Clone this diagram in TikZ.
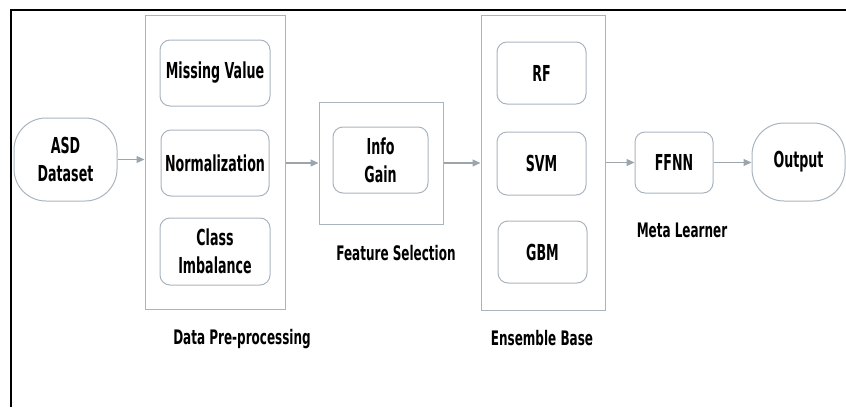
\documentclass[tikz,border=0pt]{standalone}
\usepackage{fontspec}
\usetikzlibrary{arrows.meta}
\newfontfamily\diagfont[FakeStretch=0.575]{DejaVu Sans Bold}
\newfontfamily\lblfont[FakeStretch=0.6]{DejaVu Sans Bold}
\definecolor{boxline}{HTML}{A9B4BE}
\definecolor{arrline}{HTML}{9AA5AE}
\tikzset{
  inbox/.style={draw=boxline, line width=1pt, rounded corners=10pt, align=center,
    font=\diagfont\fontsize{22}{28}\selectfont, inner sep=0pt},
  grpbox/.style={draw=boxline, line width=1pt, inner sep=0pt},
  capsule/.style={draw=boxline, line width=1pt, rounded corners=32pt, align=center,
    font=\diagfont\fontsize{22}{28}\selectfont, inner sep=0pt},
  grplabel/.style={font=\lblfont\fontsize{20}{24}\selectfont, inner sep=0pt},
  arr/.style={draw=arrline, line width=1.2pt, -{Triangle[length=8pt,width=7pt]}, arrline},
}
\begin{document}
\begin{tikzpicture}[x=1pt,y=-1pt]
\useasboundingbox (0,0) rectangle (846,407);
% frame
\draw[line width=2pt, black] (11,407) -- (11,10) -- (846,10);
% groups
\node[grpbox, minimum width=140pt, minimum height=294pt] (g1) at (215,162) {};
\node[grpbox, minimum width=124pt, minimum height=122pt] (g2) at (381,163) {};
\node[grpbox, minimum width=124pt, minimum height=295pt] (g3) at (543,162.5) {};
% inner boxes
\node[capsule, minimum width=103pt, minimum height=83pt] (asd) at (65.5,159.5) {ASD\\Dataset};
\node[inbox, minimum width=110pt, minimum height=66pt] (mv) at (215,73) {Missing Value};
\node[inbox, minimum width=108pt, minimum height=66pt] (nm) at (215,163) {Normalization};
\node[inbox, minimum width=110pt, minimum height=67pt] (ci) at (215,251.5) {Class\\Imbalance};
\node[inbox, minimum width=95pt, minimum height=66pt] (ig) at (380.5,160) {Info\\Gain};
\node[inbox, minimum width=89pt, minimum height=62pt] (rf) at (541.5,73) {RF};
\node[inbox, minimum width=89pt, minimum height=63pt] (svm) at (541.5,163.5) {SVM};
\node[inbox, minimum width=89pt, minimum height=62pt] (gbm) at (542.5,252) {GBM};
\node[inbox, minimum width=78pt, minimum height=61pt] (ffnn) at (674,162.5) {FFNN};
\node[capsule, minimum width=93pt, minimum height=78pt] (out) at (798.5,162) {Output};
% labels
\node[grplabel] (l1) at (242,339) {Data Pre-processing};
\node[grplabel] (l2) at (396,253) {Feature Selection};
\node[grplabel] (l3) at (542,338) {Ensemble Base};
\node[grplabel] (l4) at (682,230) {Meta Learner};
% arrows
\draw[arr] (asd.east) -- (asd.east -| g1.west);
\draw[arr] (g1.east |- g2.west) -- (g2.west);
\draw[arr] (g2.east) -- (g2.east -| g3.west);
\draw[arr] (g3.east |- ffnn.west) -- (ffnn.west);
\draw[arr] (ffnn.east) -- (ffnn.east -| out.west);
\end{tikzpicture}
\end{document}
